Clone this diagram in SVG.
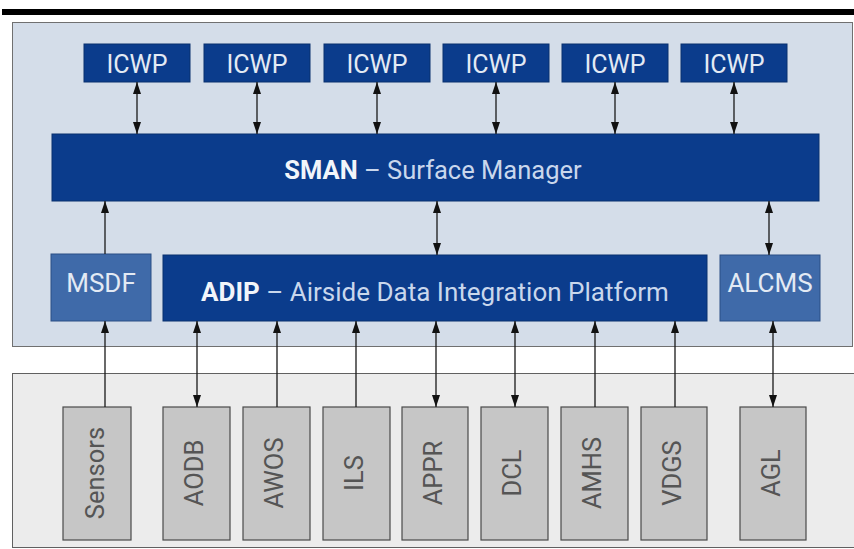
<svg xmlns="http://www.w3.org/2000/svg" width="854" height="549" viewBox="0 0 854 549">
<defs>
<marker id="ah" viewBox="0 0 12 8" refX="12" refY="4" markerWidth="12" markerHeight="8" markerUnits="userSpaceOnUse" orient="auto-start-reverse">
<path d="M0,0 L12,4 L0,8 z" fill="#111"/>
</marker>
<style>
.navy{fill:#0b3c8c;stroke:#08306f;stroke-width:1}
.mid{fill:#3f6aa9;stroke:#2b4f85;stroke-width:1}
.gray{fill:#c6c6c6;stroke:#4a4a4a;stroke-width:1.2}
.t{font-family:Roboto,"Liberation Sans",sans-serif;fill:#e3eaf4;text-anchor:middle}
.tb{font-weight:bold;fill:#f2f5fa}
.tl{fill:#c9d7ec}
.v{font-family:Roboto,"Liberation Sans",sans-serif;font-size:25.5px;fill:#555;text-anchor:middle}
.c line{stroke:#1a1a1a;stroke-width:1.3;fill:none}
</style>
</defs>
<rect x="0" y="0" width="854" height="549" fill="#ffffff"/>
<rect x="2" y="9" width="852" height="6" fill="#000"/>
<rect id="upper-panel" x="12.5" y="22.5" width="840" height="324" fill="#d4dde9" stroke="#707070" stroke-width="1"/>
<rect id="lower-panel" x="12.5" y="373.5" width="842" height="174" fill="#ececec" stroke="#606060" stroke-width="1"/>

<g id="icwp1"><rect class="navy" x="84" y="44" width="106" height="38"/><text class="t" x="137" y="73" font-size="25">ICWP</text></g>
<g id="icwp2"><rect class="navy" x="204" y="44" width="106" height="38"/><text class="t" x="257" y="73" font-size="25">ICWP</text></g>
<g id="icwp3"><rect class="navy" x="324" y="44" width="106" height="38"/><text class="t" x="377" y="73" font-size="25">ICWP</text></g>
<g id="icwp4"><rect class="navy" x="443" y="44" width="106" height="38"/><text class="t" x="496" y="73" font-size="25">ICWP</text></g>
<g id="icwp5"><rect class="navy" x="562" y="44" width="106" height="38"/><text class="t" x="615" y="73" font-size="25">ICWP</text></g>
<g id="icwp6"><rect class="navy" x="681" y="44" width="106" height="38"/><text class="t" x="734" y="73" font-size="25">ICWP</text></g>

<g id="sman"><rect class="navy" x="52" y="134" width="767" height="67"/><text class="t" x="433" y="179" font-size="25.5"><tspan class="tb">SMAN</tspan><tspan class="tl"> – Surface Manager</tspan></text></g>

<g id="msdf"><rect class="mid" x="51" y="254" width="100" height="67"/><text class="t" x="101" y="292" font-size="26">MSDF</text></g>
<g id="adip"><rect class="navy" x="163" y="255" width="544" height="66"/><text class="t" x="435" y="301" font-size="26"><tspan class="tb">ADIP</tspan><tspan class="tl"> – Airside Data Integration Platform</tspan></text></g>
<g id="alcms"><rect class="mid" x="720" y="255" width="100" height="66"/><text class="t" x="770" y="292" font-size="26">ALCMS</text></g>

<g id="sensors"><rect class="gray" x="63" y="407" width="68" height="133"/><text class="v" transform="translate(104,473) rotate(-90)">Sensors</text></g>
<g id="aodb"><rect class="gray" x="163" y="407" width="67" height="133"/><text class="v" transform="translate(203,473) rotate(-90)">AODB</text></g>
<g id="awos"><rect class="gray" x="243" y="407" width="67" height="133"/><text class="v" transform="translate(283,473) rotate(-90)">AWOS</text></g>
<g id="ils"><rect class="gray" x="323" y="407" width="67" height="133"/><text class="v" transform="translate(363,473) rotate(-90)">ILS</text></g>
<g id="appr"><rect class="gray" x="402" y="407" width="66" height="133"/><text class="v" transform="translate(442,473) rotate(-90)">APPR</text></g>
<g id="dcl"><rect class="gray" x="481" y="407" width="67" height="133"/><text class="v" transform="translate(521,473) rotate(-90)">DCL</text></g>
<g id="amhs"><rect class="gray" x="561" y="407" width="67" height="133"/><text class="v" transform="translate(601,473) rotate(-90)">AMHS</text></g>
<g id="vdgs"><rect class="gray" x="641" y="407" width="66" height="133"/><text class="v" transform="translate(681,473) rotate(-90)">VDGS</text></g>
<g id="agl"><rect class="gray" x="740" y="407" width="66" height="133"/><text class="v" transform="translate(780,473) rotate(-90)">AGL</text></g>

<g id="connectors" class="c">
<line x1="137" y1="82" x2="137" y2="134" marker-start="url(#ah)" marker-end="url(#ah)"/>
<line x1="257" y1="82" x2="257" y2="134" marker-start="url(#ah)" marker-end="url(#ah)"/>
<line x1="377" y1="82" x2="377" y2="134" marker-start="url(#ah)" marker-end="url(#ah)"/>
<line x1="496" y1="82" x2="496" y2="134" marker-start="url(#ah)" marker-end="url(#ah)"/>
<line x1="615" y1="82" x2="615" y2="134" marker-start="url(#ah)" marker-end="url(#ah)"/>
<line x1="734" y1="82" x2="734" y2="134" marker-start="url(#ah)" marker-end="url(#ah)"/>
<line x1="105" y1="254" x2="105" y2="201" marker-end="url(#ah)"/>
<line x1="437" y1="201" x2="437" y2="255" marker-start="url(#ah)" marker-end="url(#ah)"/>
<line x1="769" y1="201" x2="769" y2="255" marker-start="url(#ah)" marker-end="url(#ah)"/>
<line x1="105" y1="407" x2="105" y2="321" marker-end="url(#ah)"/>
<line x1="197" y1="407" x2="197" y2="321" marker-start="url(#ah)" marker-end="url(#ah)"/>
<line x1="277" y1="407" x2="277" y2="321" marker-end="url(#ah)"/>
<line x1="356" y1="407" x2="356" y2="321" marker-end="url(#ah)"/>
<line x1="436" y1="407" x2="436" y2="321" marker-start="url(#ah)" marker-end="url(#ah)"/>
<line x1="515" y1="407" x2="515" y2="321" marker-start="url(#ah)" marker-end="url(#ah)"/>
<line x1="595" y1="407" x2="595" y2="321" marker-end="url(#ah)"/>
<line x1="675" y1="407" x2="675" y2="321" marker-end="url(#ah)"/>
<line x1="773" y1="407" x2="773" y2="321" marker-start="url(#ah)" marker-end="url(#ah)"/>
</g>
</svg>
